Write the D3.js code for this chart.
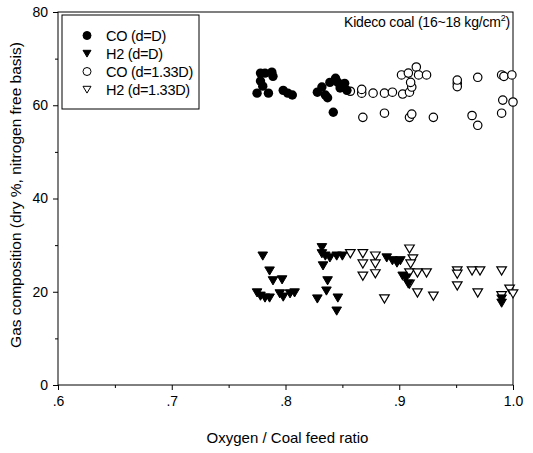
<!DOCTYPE html>
<html>
<head>
<meta charset="utf-8">
<script src="https://cdn.jsdelivr.net/npm/d3@7"></script>
<style>
  body { margin: 0; background: #fff; }
  svg text { font-family: "Liberation Sans", Arial, sans-serif; fill: #000; }
</style>
</head>
<body>
<div id="chart"></div>
<script>
'use strict';

// x = oxygen/coal ratio, y = gas composition (%)
var coD = [
  [0.778, 66.9], [0.782, 66.9], [0.788, 67.1], [0.789, 66.2], [0.778, 65.2],
  [0.780, 64.1], [0.785, 62.6], [0.775, 62.6], [0.798, 63.2], [0.802, 62.6],
  [0.806, 62.2], [0.828, 62.8], [0.832, 63.9], [0.835, 62.2], [0.837, 61.6],
  [0.839, 64.9], [0.844, 65.8], [0.846, 64.9], [0.848, 63.7], [0.852, 64.7],
  [0.854, 63.2], [0.842, 58.5]
];
var h2D = [
  [0.780, 27.7], [0.786, 24.5], [0.789, 22.4], [0.797, 22.6], [0.775, 19.8],
  [0.778, 19.1], [0.782, 18.7], [0.786, 18.7], [0.795, 19.6], [0.798, 18.9],
  [0.804, 19.6], [0.808, 19.8], [0.828, 18.5], [0.832, 29.5], [0.832, 28.2],
  [0.835, 27.7], [0.839, 27.3], [0.845, 27.7], [0.850, 27.7], [0.833, 25.6],
  [0.837, 22.4], [0.836, 20.2], [0.846, 18.7], [0.845, 15.9], [0.889, 27.3],
  [0.894, 26.7], [0.898, 26.2], [0.901, 26.7], [0.903, 23.4], [0.906, 23.0],
  [0.908, 21.7], [0.990, 18.5], [0.990, 17.6]
];
var co133 = [
  [0.857, 63.0], [0.867, 62.6], [0.867, 63.4], [0.877, 62.6], [0.887, 62.6],
  [0.894, 62.8], [0.903, 62.4], [0.909, 62.8], [0.911, 63.9], [0.910, 64.9],
  [0.902, 66.5], [0.908, 66.9], [0.915, 68.2], [0.917, 66.5], [0.924, 66.5],
  [0.951, 64.7], [0.951, 64.0], [0.951, 65.4], [0.969, 66.0], [0.990, 66.5],
  [0.992, 66.2], [0.999, 66.5], [0.991, 61.1], [1.000, 60.7], [0.868, 57.4],
  [0.887, 58.3], [0.909, 57.4], [0.911, 58.1], [0.930, 57.4], [0.964, 57.8],
  [0.969, 55.7], [0.990, 58.3]
];
var h2133 = [
  [0.857, 28.2], [0.868, 28.2], [0.868, 26.0], [0.868, 23.4], [0.879, 27.7],
  [0.879, 26.0], [0.879, 23.9], [0.909, 29.2], [0.912, 27.1], [0.910, 26.0],
  [0.909, 24.1], [0.916, 24.1], [0.924, 24.1], [0.909, 21.7], [0.916, 19.8],
  [0.930, 19.1], [0.887, 18.5], [0.951, 24.5], [0.951, 21.3], [0.964, 24.5],
  [0.971, 24.5], [0.969, 19.8], [0.990, 24.5], [0.997, 20.6], [1.000, 19.6],
  [0.951, 23.8], [0.990, 19.2]
];

var xTicks = [0.6, 0.7, 0.8, 0.9, 1.0];
var xTickLabels = ['.6', '.7', '.8', '.9', '1.0'];
var xMinor = [0.65, 0.75, 0.85, 0.95];
var yTicks = [0, 20, 40, 60, 80];
var yMinor = [10, 30, 50, 70];
var legendLabels = ['CO (d=D)', 'H2 (d=D)', 'CO (d=1.33D)', 'H2 (d=1.33D)'];

var W = 533, H = 453;
var m = {left: 58, top: 12, right: 20, bottom: 68};
var iw = W - m.left - m.right, ih = H - m.top - m.bottom;

var svg = d3.select('#chart').append('svg')
  .attr('width', W).attr('height', H);
var g = svg.append('g').attr('transform', 'translate(' + m.left + ',' + m.top + ')');

var x = d3.scaleLinear().domain([0.6, 1.0]).range([0, iw]);
var y = d3.scaleLinear().domain([0, 80]).range([ih, 0]);

// frame
g.append('rect').attr('width', iw).attr('height', ih)
  .attr('fill', 'none').attr('stroke', '#000').attr('stroke-width', 1);

// axes
g.append('g').attr('transform', 'translate(0,' + ih + ')')
  .call(d3.axisBottom(x).tickValues(xTicks).tickSize(5).tickPadding(6)
    .tickFormat(function(d, i){ return xTickLabels[i]; }));
g.append('g').attr('transform', 'translate(0,' + ih + ')')
  .call(d3.axisBottom(x).tickValues(xMinor).tickSize(3).tickFormat(''));
g.append('g')
  .call(d3.axisLeft(y).tickValues(yTicks).tickSize(5).tickPadding(5));
g.append('g')
  .call(d3.axisLeft(y).tickValues(yMinor).tickSize(3).tickFormat(''));
g.selectAll('.domain').remove();
g.selectAll('.tick line').attr('stroke', '#000');
g.selectAll('.tick text').style('font-size', '14px');

// axis titles
svg.append('text')
  .attr('x', m.left + iw / 2 + 2).attr('y', 443)
  .attr('text-anchor', 'middle').style('font-size', '15px')
  .text('Oxygen / Coal feed ratio');
svg.append('text')
  .attr('transform', 'translate(21,' + 195 + ') rotate(-90)')
  .attr('text-anchor', 'middle').style('font-size', '15.5px')
  .text('Gas composition (dry %, nitrogen free basis)');

// markers
function tri(cx, cy, s) {
  return 'M' + (cx - s) + ',' + (cy - s * 0.8) + 'L' + (cx + s) + ',' + (cy - s * 0.8) +
    'L' + cx + ',' + (cy + s * 0.9) + 'Z';
}

g.selectAll('.h2133').data(h2133).enter().append('path')
  .attr('d', function(d){ return tri(x(d[0]), y(d[1]), 4.8); })
  .attr('fill', '#fff').attr('stroke', '#000').attr('stroke-width', 1.2);
g.selectAll('.co133').data(co133).enter().append('circle')
  .attr('cx', function(d){ return x(d[0]); })
  .attr('cy', function(d){ return y(d[1]); })
  .attr('r', 4.2).attr('fill', '#fff').attr('stroke', '#000').attr('stroke-width', 1.2);
g.selectAll('.h2D').data(h2D).enter().append('path')
  .attr('d', function(d){ return tri(x(d[0]), y(d[1]), 4.8); })
  .attr('fill', '#000').attr('stroke', '#000').attr('stroke-width', 1);
g.selectAll('.coD').data(coD).enter().append('circle')
  .attr('cx', function(d){ return x(d[0]); })
  .attr('cy', function(d){ return y(d[1]); })
  .attr('r', 4.7).attr('fill', '#000');

// legend
var lg = svg.append('g').attr('transform', 'translate(62,15)');
lg.append('rect').attr('width', 137).attr('height', 94)
  .attr('fill', '#fff').attr('stroke', '#000');
legendLabels.forEach(function(lab, i){
  var cy = 20.5 + i * 18, cx = 25;
  if (i === 0 || i === 2) {
    lg.append('circle').attr('cx', cx).attr('cy', cy).attr('r', 4)
      .attr('fill', i === 0 ? '#000' : '#fff').attr('stroke', '#000');
  } else {
    lg.append('path').attr('d', tri(cx, cy, 4))
      .attr('fill', i === 1 ? '#000' : '#fff').attr('stroke', '#000');
  }
  lg.append('text').attr('x', 44).attr('y', cy + 5)
    .style('font-size', '14.5px').style('letter-spacing', '-0.3px').text(lab);
});

// annotation
var ann = svg.append('text')
  .attr('x', 510).attr('y', 27).attr('text-anchor', 'end')
  .style('font-size', '14px').style('letter-spacing', '-0.2px');
ann.append('tspan').text('Kideco coal (16~18 kg/cm');
ann.append('tspan').attr('dy', -6).style('font-size', '9px').text('2');
ann.append('tspan').attr('dy', 6).text(')');
</script>
</body>
</html>
